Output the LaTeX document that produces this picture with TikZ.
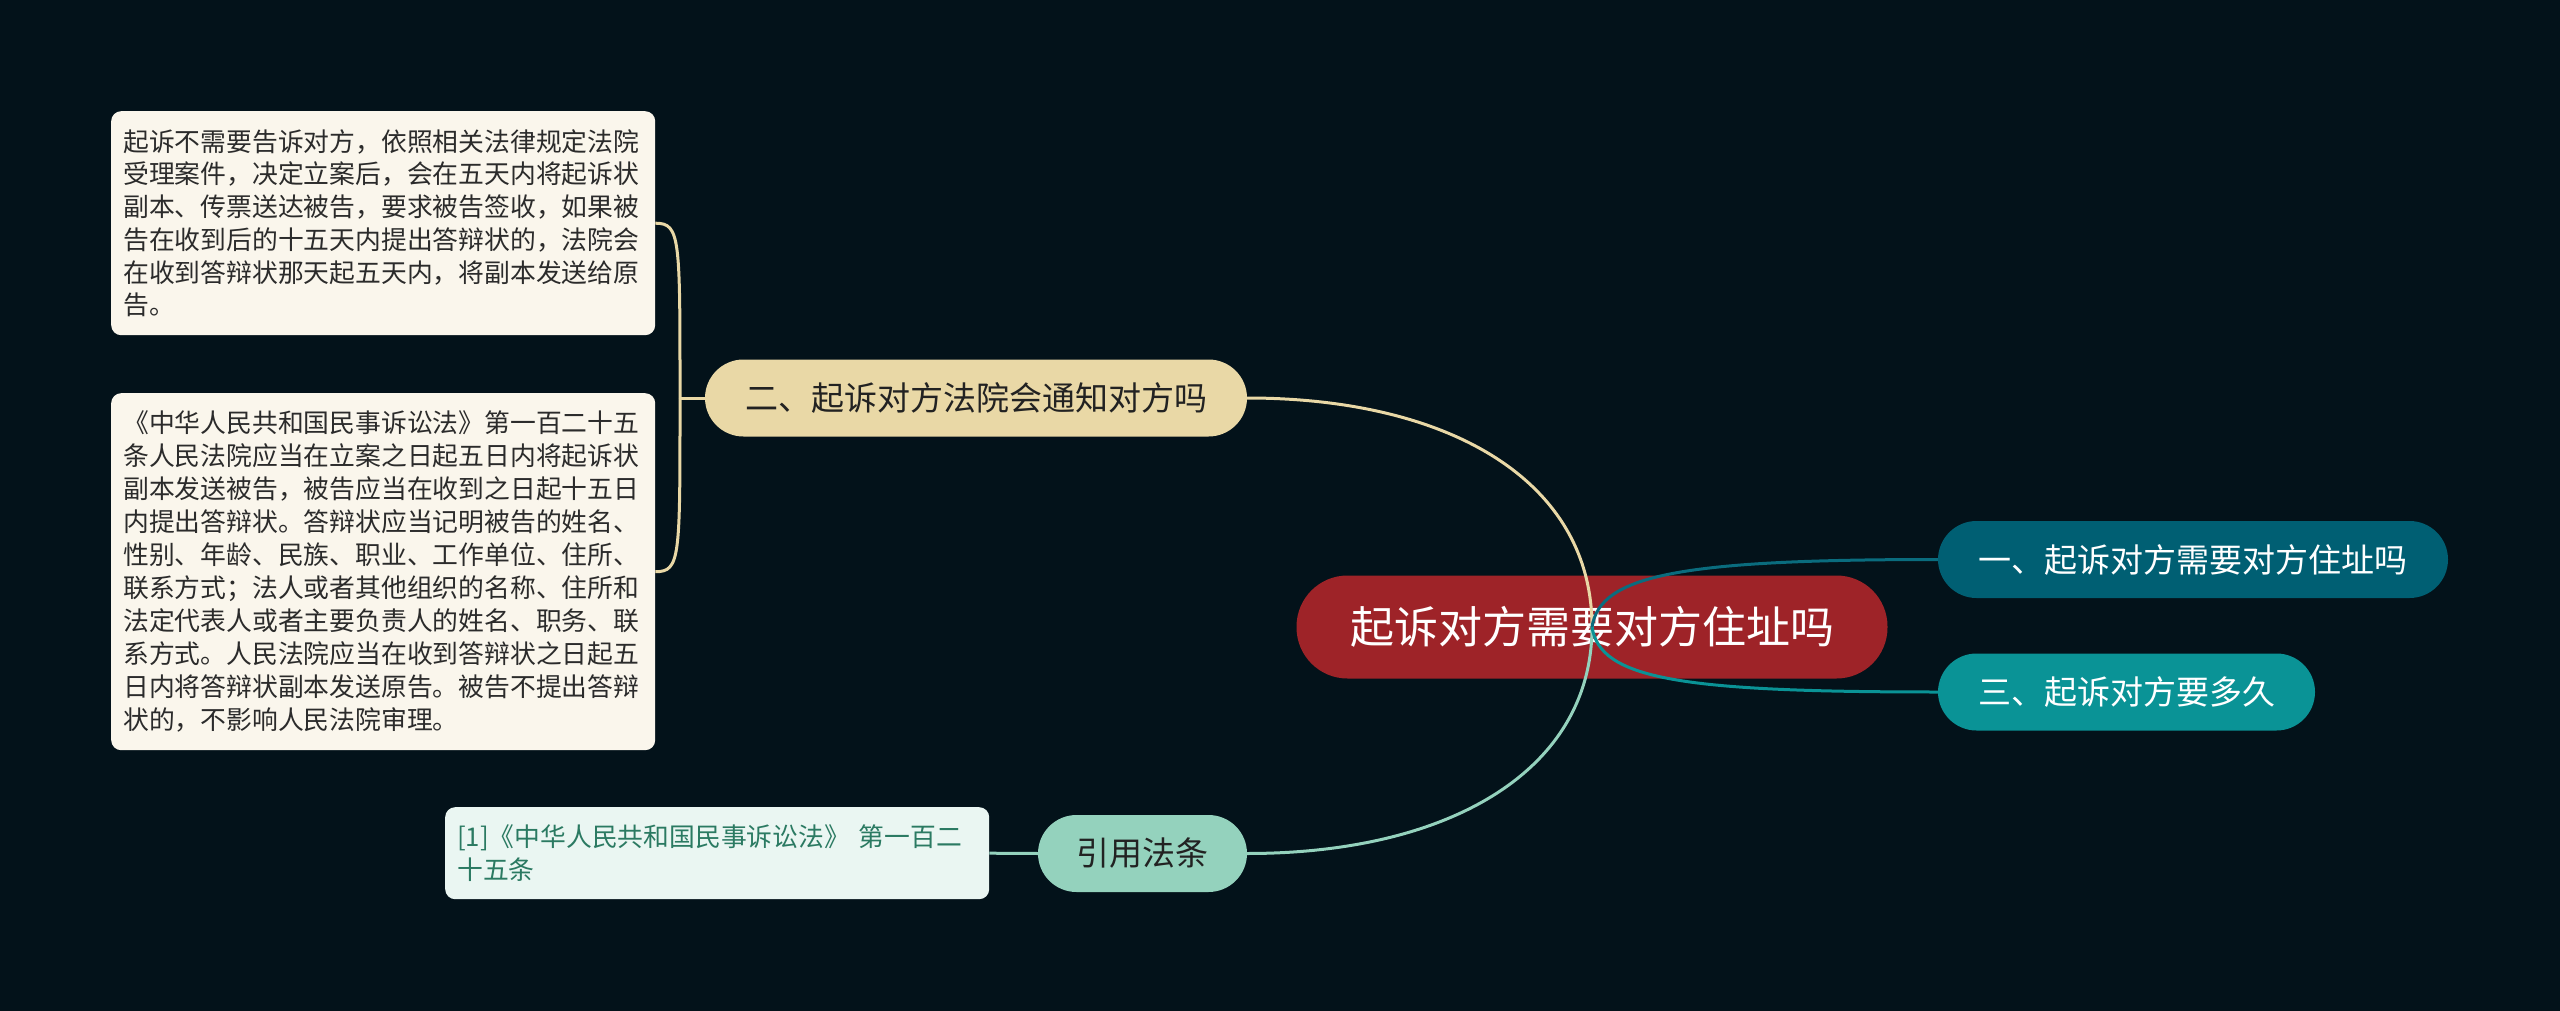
\documentclass[tikz,border=0pt]{standalone}
\usepackage{fontspec}
\setmainfont{Noto Sans CJK SC}
\definecolor{bg}{HTML}{03121A}
\definecolor{rootc}{HTML}{9E2328}
\definecolor{c1}{HTML}{005F73}
\definecolor{c3}{HTML}{0A9396}
\definecolor{c2}{HTML}{E9D8A6}
\definecolor{c4}{HTML}{94D2BD}
\definecolor{notefill}{HTML}{FAF6EC}
\definecolor{notetext}{HTML}{2B2B2B}
\definecolor{reffill}{HTML}{EAF6F2}
\definecolor{reftext}{HTML}{2B7A62}
\definecolor{darktext}{HTML}{222222}
\definecolor{l1}{HTML}{0A6C7E}
\begin{document}
\begin{tikzpicture}[x=1pt,y=-1pt,
  pill/.style={rounded corners=38.5pt, minimum height=77pt, inner xsep=0pt, inner ysep=0pt,
    font=\fontsize{33}{36}\selectfont, align=center},
  rootbox/.style={rounded corners=51pt, minimum height=103pt, minimum width=591pt, inner sep=0pt,
    fill=rootc, text=white, font=\fontsize{44}{48}\selectfont},
  note/.style={rounded corners=10pt, anchor=north west, align=left, text width=520pt,
    inner xsep=12pt, inner ysep=4pt, fill=notefill, text=notetext,
    font=\fontsize{25.8}{32.7}\selectfont},
  link/.style={line width=3pt}]
\useasboundingbox[fill=bg] (0,0) rectangle (2560,1011);

% nodes
\node[rootbox] (root) at (1592,627) {起诉对方需要对方住址吗};
\node[pill, fill=c1, text=white, minimum width=510pt] (n1) at (2193,559.5) {一、起诉对方需要对方住址吗};
\node[pill, fill=c3, text=white, minimum width=377pt] (n3) at (2126.5,692) {三、起诉对方要多久};
\node[pill, fill=c2, text=darktext, minimum width=542pt] (n2) at (976,398) {二、起诉对方法院会通知对方吗};
\node[pill, fill=c4, text=darktext, minimum width=209pt] (n4) at (1142.5,853.5) {引用法条};

\node[note, minimum height=224pt] (b1) at (111,111) {起诉不需要告诉对方，依照相关法律规定法院\\受理案件，决定立案后，会在五天内将起诉状\\副本、传票送达被告，要求被告签收，如果被\\告在收到后的十五天内提出答辩状的，法院会\\在收到答辩状那天起五天内，将副本发送给原\\告。};
\node[note, minimum height=357pt, font=\fontsize{25.8}{33}\selectfont] (b2) at (111,393) {《中华人民共和国民事诉讼法》第一百二十五\\条人民法院应当在立案之日起五日内将起诉状\\副本发送被告，被告应当在收到之日起十五日\\内提出答辩状。答辩状应当记明被告的姓名、\\性别、年龄、民族、职业、工作单位、住所、\\联系方式；法人或者其他组织的名称、住所和\\法定代表人或者主要负责人的姓名、职务、联\\系方式。人民法院应当在收到答辩状之日起五\\日内将答辩状副本发送原告。被告不提出答辩\\状的，不影响人民法院审理。};
\node[note, fill=reffill, text=reftext, minimum height=92pt, font=\fontsize{25.8}{33}\selectfont] (b3) at (445,807) {[1]《中华人民共和国民事诉讼法》 第一百二\\十五条};

% connectors
\coordinate (j) at (680,398);
\draw[link, c2] (n2.west) -- (j);
\draw[link, c2] (j) .. controls +(0,-160) and +(25,0) .. (b1.east);
\draw[link, c2] (j) .. controls +(0,160) and +(25,0) .. (b2.east);
\draw[link, c4] (b3.east) -- (n4.west);

\draw[link, c2] (n2.east) .. controls +(201,0) and +(0,-147) .. (root.center);
\draw[link, c4] (n4.east) .. controls +(203,0) and +(0,143) .. (root.center);
\draw[link, l1] (root.center) .. controls +(8,-52) and +(-258,0) .. (n1.west);
\draw[link, c3] (root.center) .. controls +(8,52) and +(-258,0) .. (n3.west);
\end{tikzpicture}
\end{document}
